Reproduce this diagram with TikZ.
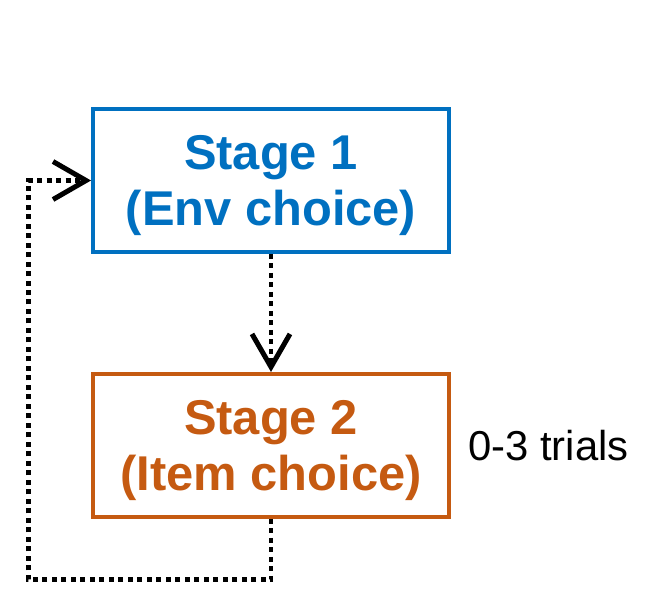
\documentclass[tikz,border=0pt]{standalone}
\usepackage{fontspec}
\setmainfont{Liberation Sans}
\usetikzlibrary{positioning,arrows.meta}
\definecolor{stageblue}{RGB}{0,112,192}
\definecolor{stageorange}{RGB}{197,90,17}
\begin{document}
\begin{tikzpicture}[x=0.02cm, y=-0.02cm, node distance=2.36cm,
    stagebox/.style={draw, line width=0.08cm, minimum width=7.12cm, minimum height=2.86cm,
      align=center, text depth=0pt, font=\fontsize{27.8}{32.3}\selectfont\bfseries},
    loopline/.style={line width=0.1cm, dash pattern=on 0.1cm off 0.09cm,
      -{Straight Barb[length=0.66cm, width=0.76cm, line width=0.1cm]}}]
    \useasboundingbox (0,0) rectangle (654,616);
    \node(S1) [stagebox, draw=stageblue, text=stageblue] at (271,180.5) {Stage 1\\(Env choice)};
    \node(S2) [stagebox, draw=stageorange, text=stageorange, below=of S1] {Stage 2\\(Item choice)};
    \node(T) [right=0.22cm of S2, font=\fontsize{23.8}{28}\selectfont] {0-3 trials};
    \draw[loopline](S1) -- (S2);
    \draw[loopline](S2.south) -- ++(0,61) -| ([xshift=-1.26cm]S1.west) -- (S1.west);
\end{tikzpicture}
\end{document}
